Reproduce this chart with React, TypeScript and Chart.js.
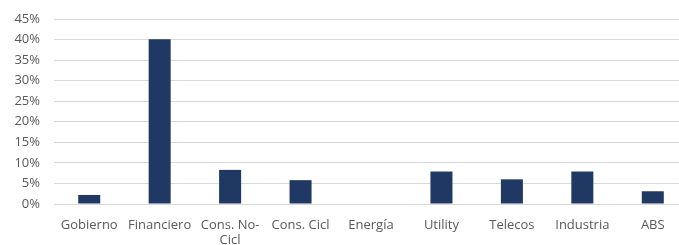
import React, { useEffect, useRef } from "react";
import { Chart, registerables } from "chart.js";

Chart.register(...registerables);

const categories: (string | string[])[] = [
  "Gobierno",
  "Financiero",
  ["Cons. No-", "Cicl"],
  "Cons. Cicl",
  "Energía",
  "Utility",
  "Telecos",
  "Industria",
  "ABS",
];
const values: number[] = [2.2, 40.1, 8.3, 5.8, 0, 7.9, 6.0, 7.9, 3.1];
const yTicks: number[] = [0, 5, 10, 15, 20, 25, 30, 35, 40, 45];

export default function App() {
  const ref = useRef<HTMLCanvasElement | null>(null);
  useEffect(() => {
    document.body.style.margin = "0";
    const ctx = ref.current!;
    const chart = new Chart(ctx, {
      type: "bar",
      data: {
        labels: categories,
        datasets: [
          {
            data: values,
            backgroundColor: "#203864",
            borderColor: "#203864",
            borderWidth: 0,
            barPercentage: 0.3125,
            categoryPercentage: 1,
          },
        ],
      },
      options: {
        animation: false,
        responsive: false,
        maintainAspectRatio: false,
        layout: { padding: { left: 0, right: 0, top: 0, bottom: 0 } },
        plugins: { legend: { display: false }, tooltip: { enabled: false } },
        scales: {
          x: {
            grid: { display: false },
            border: { display: false },
            ticks: {
              color: "#595959",
              font: { family: "Open Sans", size: 13 },
              maxRotation: 0,
              autoSkip: false,
              padding: 5,
            },
            afterFit: (s: any) => {
              s.height = 41;
            },
          },
          y: {
            min: 0,
            max: 45,
            afterBuildTicks: (s: any) => {
              s.ticks = yTicks.map((v) => ({ value: v }));
            },
            grid: { color: "#d9d9d9", lineWidth: 1, drawTicks: false },
            border: { display: false },
            ticks: {
              color: "#595959",
              font: { family: "Open Sans", size: 13 },
              padding: 14,
              callback: (v: any) => v + "%",
            },
            afterFit: (s: any) => {
              s.width = 54;
              s.paddingTop = 19;
            },
          },
        },
      },
    });
    return () => chart.destroy();
  }, []);
  return (
    <div style={{ width: 679, height: 245, overflow: "hidden" }}>
      <canvas ref={ref} width={688} height={245} style={{ width: 688, height: 245, display: "block" }} />
    </div>
  );
}
